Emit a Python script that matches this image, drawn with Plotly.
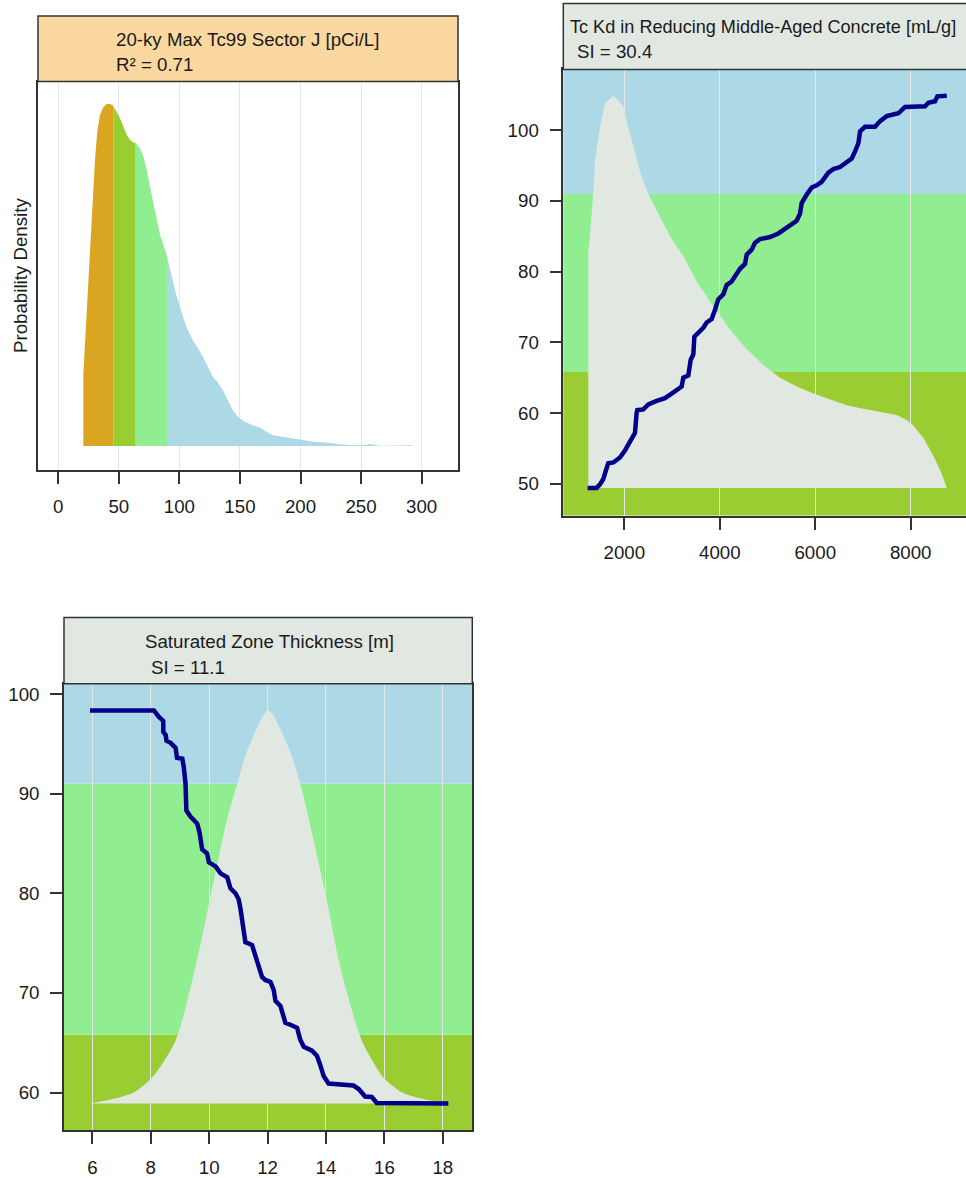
import plotly.graph_objects as go

# ---- panel 1: density of the output, coloured by range ----
p1_x = [20.67, 23.97, 26.18, 28.38, 30.3, 32.2, 34.43, 37.19, 39.94, 42.69,
        45.44, 48.2, 50.95, 53.7, 56.5, 59.2, 62.0, 63.9, 67.5, 70.2,
        73.0, 75.7, 78.5, 81.2, 84.0, 86.7, 89.8, 92.2, 95.0, 97.7,
        100.5, 103.2, 106.0, 108.7, 111.5, 114.3, 117.0, 119.8, 122.5, 125.3,
        128.0, 130.8, 133.5, 136.3, 139.0, 141.8, 144.5, 147.3, 150.0, 152.8,
        156.9, 161.0, 166.5, 172.0, 177.6, 185.8, 194.1, 202.3, 210.6, 224.4,
        232.6, 243.6, 253.3, 257.4, 261.5, 265.6, 293.2]
p1_density = [0.209, 0.428, 0.565, 0.701, 0.837, 0.92, 0.969, 0.991, 1.0, 1.0,
              0.995, 0.978, 0.959, 0.935, 0.91, 0.896, 0.888, 0.886, 0.871, 0.847,
              0.808, 0.759, 0.711, 0.662, 0.618, 0.589, 0.555, 0.516, 0.477, 0.438,
              0.404, 0.375, 0.346, 0.326, 0.307, 0.292, 0.277, 0.258, 0.239, 0.219,
              0.2, 0.19, 0.175, 0.161, 0.141, 0.122, 0.102, 0.09, 0.08, 0.073,
              0.066, 0.06, 0.054, 0.041, 0.031, 0.026, 0.021, 0.015, 0.012, 0.009,
              0.005, 0.002, 0.003, 0.006, 0.004, 0.001, 0.002]
p1_breaks = [20.67, 45.44, 63.9, 89.8, 293.2]
band_colors = ["#DAA520", "#9ACD32", "#90EE90", "#ADD8E6"]
p1_ticks = [0, 50, 100, 150, 200, 250, 300]

# ---- panel 2: Tc Kd ----
p2_line_x = [1232, 1420, 1490, 1560, 1616, 1665, 1770, 1909, 2014, 2119,
             2224, 2258, 2272, 2398, 2503, 2678, 2852, 2992, 3097, 3202,
             3236, 3341, 3390, 3446, 3467, 3551, 3655, 3725, 3830, 3900,
             3970, 4075, 4144, 4249, 4319, 4424, 4529, 4564, 4669, 4739,
             4843, 5053, 5227, 5402, 5611, 5681, 5716, 5821, 5926, 6030,
             6135, 6275, 6380, 6519, 6659, 6764, 6834, 6904, 6939, 7043,
             7253, 7358, 7497, 7742, 7882, 8300, 8370, 8510, 8559, 8755]
p2_line_y = [49.4, 49.4, 49.9, 50.65, 51.9, 52.9, 53.0, 53.7, 54.7, 55.9,
             57.2, 60.0, 60.4, 60.5, 61.2, 61.7, 62.1, 62.75, 63.25, 63.75,
             65.0, 65.3, 67.5, 68.3, 70.8, 71.3, 72.05, 72.8, 73.3, 74.6,
             76.1, 76.8, 78.1, 78.6, 79.4, 80.4, 81.1, 82.4, 83.1, 84.1,
             84.6, 84.9, 85.4, 86.2, 87.2, 88.2, 89.7, 90.9, 91.9, 92.2,
             92.7, 94.0, 94.5, 94.8, 95.5, 96.0, 97.0, 98.2, 99.85, 100.5,
             100.5, 101.3, 102.0, 102.4, 103.3, 103.4, 103.9, 104.1, 104.8, 104.9]
p2_dens_x = [1246, 1246, 1267, 1316, 1350, 1385, 1491, 1595, 1770, 1909,
             1979, 2049, 2189, 2260, 2328, 2503, 2957, 3236, 3516, 3865,
             4214, 4564, 4913, 5262, 5611, 5960, 6310, 6659, 7008, 7358,
             7707, 7917, 8057, 8266, 8476, 8650, 8755]
p2_dens_y = [49.4, 83.1, 84.1, 88.2, 91.1, 95.7, 100.5, 103.8, 104.9, 104.0,
             103.35, 101.3, 97.7, 95.8, 94.2, 91.0, 85.0, 82.2, 78.6, 75.1,
             71.8, 69.0, 66.8, 65.0, 63.75, 62.75, 61.9, 61.1, 60.6, 60.2,
             59.7, 59.0, 58.2, 56.45, 53.9, 51.4, 49.4]
p2_xticks = [2000, 4000, 6000, 8000]
p2_yticks = [50, 60, 70, 80, 90, 100]

# ---- panel 3: saturated zone thickness ----
p3_line_x = [5.92, 8.11, 8.28, 8.43, 8.43, 8.51, 8.54, 8.68, 8.85, 8.90,
             9.08, 9.13, 9.19, 9.22, 9.36, 9.59, 9.67, 9.76, 9.93, 9.99,
             10.22, 10.39, 10.62, 10.73, 10.90, 11.01, 11.07, 11.13, 11.24, 11.47,
             11.58, 11.70, 11.81, 11.92, 12.10, 12.21, 12.27, 12.44, 12.55, 12.61,
             12.78, 13.01, 13.12, 13.24, 13.52, 13.69, 13.80, 13.92, 14.09, 14.72,
             14.94, 15.12, 15.34, 15.57, 15.74, 18.19]
p3_line_y = [98.35, 98.35, 97.7, 97.3, 96.2, 95.9, 95.3, 95.1, 94.6, 93.6,
             93.5, 92.7, 91.05, 88.3, 87.7, 87.0, 86.1, 84.4, 84.0, 83.1,
             82.7, 82.0, 81.6, 80.5, 80.0, 79.4, 78.5, 77.0, 75.1, 74.8,
             73.7, 72.6, 71.6, 71.3, 71.1, 70.3, 69.2, 68.7, 67.8, 67.0,
             66.8, 66.5, 65.3, 64.6, 64.2, 63.7, 62.8, 61.65, 60.9, 60.8,
             60.7, 60.35, 59.6, 59.55, 58.95, 58.9]
p3_dens_x = [5.92, 6.63, 7.42, 8.05, 8.85, 9.53, 10.07, 10.61, 10.96, 11.36,
             12.03, 12.7, 13.12, 13.98, 14.49, 15.23, 15.97, 16.6, 17.4, 18.1]
p3_dens_y = [58.9, 59.3, 60.0, 61.5, 65.2, 72.6, 80.0, 87.4, 91.0, 94.75,
             98.37, 94.75, 91.0, 80.0, 72.6, 65.2, 61.5, 60.0, 59.3, 58.9]
p3_xticks = [6, 8, 10, 12, 14, 16, 18]
p3_yticks = [60, 70, 80, 90, 100]

# output ranges used for the background bands (low / mid / high)
band_cuts = [65.8, 91.0]

FONT = "Liberation Sans, Arial, sans-serif"
TXT = "#1a1a1a"
FRAME = "#333333"
DENS = "#E1E8E1"
LINE = "#00008B"
W, H = 966, 1178


def px_x(v):
    return v / W


def px_y(v):
    return 1 - v / H


fig = go.Figure()

# panel 1 coloured density segments
for lo, hi, col in zip(p1_breaks[:-1], p1_breaks[1:], band_colors):
    seg = [(a, b) for a, b in zip(p1_x, p1_density) if lo <= a <= hi]
    fig.add_trace(go.Scatter(
        x=[s[0] for s in seg], y=[s[1] for s in seg], mode="lines",
        fill="tozeroy", fillcolor=col, line=dict(width=0, color=col),
        xaxis="x", yaxis="y", hoverinfo="skip", showlegend=False))

# panel 2
fig.add_trace(go.Scatter(x=p2_dens_x, y=p2_dens_y, mode="lines", fill="toself",
                         fillcolor=DENS, line=dict(width=0, color=DENS),
                         xaxis="x2", yaxis="y2", showlegend=False))
fig.add_trace(go.Scatter(x=p2_line_x, y=p2_line_y, mode="lines",
                         line=dict(width=4.5, color=LINE),
                         xaxis="x2", yaxis="y2", showlegend=False))

# panel 3
fig.add_trace(go.Scatter(x=p3_dens_x, y=p3_dens_y, mode="lines", fill="toself",
                         fillcolor=DENS, line=dict(width=0, color=DENS, shape="spline", smoothing=0.7),
                         xaxis="x3", yaxis="y3", showlegend=False))
fig.add_trace(go.Scatter(x=p3_line_x, y=p3_line_y, mode="lines",
                         line=dict(width=4.5, color=LINE),
                         xaxis="x3", yaxis="y3", showlegend=False))

axis_common = dict(showline=True, linecolor=FRAME, linewidth=1.5, ticks="outside",
                   ticklen=12, tickwidth=1.5, tickcolor=FRAME, zeroline=False,
                   ticklabelstandoff=7,
                   tickfont=dict(family=FONT, size=18.7, color=TXT))

# domains from pixel positions
d1x = [px_x(38), px_x(458)]
d1y = [px_y(470.7), px_y(81.7)]
d2x = [px_x(563.3), 1.0]
d2y = [px_y(516.7), px_y(69.6)]
d3x = [px_x(64), px_x(472.3)]
d3y = [px_y(1132.3), px_y(684.9)]

p2_yrange = [45.45, 108.6]
p3_yrange = [56.2, 101.03]

fig.update_layout(
    width=W, height=H, margin=dict(l=0, r=0, t=0, b=0),
    paper_bgcolor="white", plot_bgcolor="white", showlegend=False,
    font=dict(family=FONT, color=TXT, size=18.7),
    xaxis=dict(domain=d1x, range=[-16.76, 330.06], anchor="y", tickvals=p1_ticks,
               showgrid=True, gridcolor="#E6E6E6", mirror=True, **axis_common),
    yaxis=dict(domain=d1y, range=[-0.070, 1.066], anchor="x", showticklabels=False,
               showgrid=False, showline=True, linecolor=FRAME, linewidth=1.5,
               mirror=True, zeroline=False, ticks=""),
    xaxis2=dict(domain=d2x, range=[722, 9158], anchor="y2", tickvals=p2_xticks,
                showgrid=True, gridcolor="#E6E6E6", mirror=True, **axis_common),
    yaxis2=dict(domain=d2y, range=p2_yrange, anchor="x2", tickvals=p2_yticks,
                showgrid=False, mirror=False, **axis_common),
    xaxis3=dict(domain=d3x, range=[5.03, 19.01], anchor="y3", tickvals=p3_xticks,
                showgrid=True, gridcolor="#E6E6E6", mirror=True, **axis_common),
    yaxis3=dict(domain=d3y, range=p3_yrange, anchor="x3", tickvals=p3_yticks,
                showgrid=False, mirror=True, **axis_common),
)

shapes = []
# background bands for panels 2 and 3
for xr, yr, rng in [("x2 domain", "y2", p2_yrange), ("x3 domain", "y3", p3_yrange)]:
    edges = [rng[0], band_cuts[0], band_cuts[1], rng[1]]
    for lo, hi, col in zip(edges[:-1], edges[1:], ["#9ACD32", "#90EE90", "#ADD8E6"]):
        shapes.append(dict(type="rect", xref=xr, yref=yr, x0=0, x1=1, y0=lo, y1=hi,
                           fillcolor=col, line=dict(width=0), layer="below"))

# strip headers
for x0, x1, y0, y1, col in [
    (d1x[0], d1x[1], d1y[1], px_y(16), "#FBD89F"),
    (d2x[0], 1.02, d2y[1], px_y(3.6), "#E1E8E1"),
    (d3x[0], d3x[1], d3y[1], px_y(618.5), "#E1E8E1"),
]:
    shapes.append(dict(type="rect", xref="paper", yref="paper", x0=x0, x1=x1,
                       y0=y0, y1=y1, fillcolor=col,
                       line=dict(color=FRAME, width=1.5), layer="above"))
fig.update_layout(shapes=shapes)

annots = [
    ("20-ky Max Tc99 Sector J [pCi/L]", 114.3, 40, 18.7),
    ("R² = 0.71", 114.3, 65, 18.7),
    ("Tc Kd in Reducing Middle-Aged Concrete [mL/g]", 567.5, 26.8, 18.1),
    ("SI = 30.4", 575, 51.8, 18.7),
    ("Saturated Zone Thickness [m]", 143.3, 642.4, 18.7),
    ("SI = 11.1", 149, 668.3, 18.7),
]
for text, ax, ay, fs in annots:
    fig.add_annotation(text=text, xref="paper", yref="paper", x=px_x(ax), y=px_y(ay),
                       xanchor="left", yanchor="middle", showarrow=False,
                       font=dict(family=FONT, size=fs, color=TXT))

fig.add_annotation(text="Probability Density", xref="paper", yref="paper",
                   x=px_x(20), y=px_y(276.5), textangle=-90, showarrow=False,
                   xanchor="center", yanchor="middle",
                   font=dict(family=FONT, size=18.7, color=TXT))

# the page body has a default margin; drop it so the figure sits at (0, 0)
fig.write_html("out.html", config={"displayModeBar": False},
               post_script="document.body.style.margin='0';")
